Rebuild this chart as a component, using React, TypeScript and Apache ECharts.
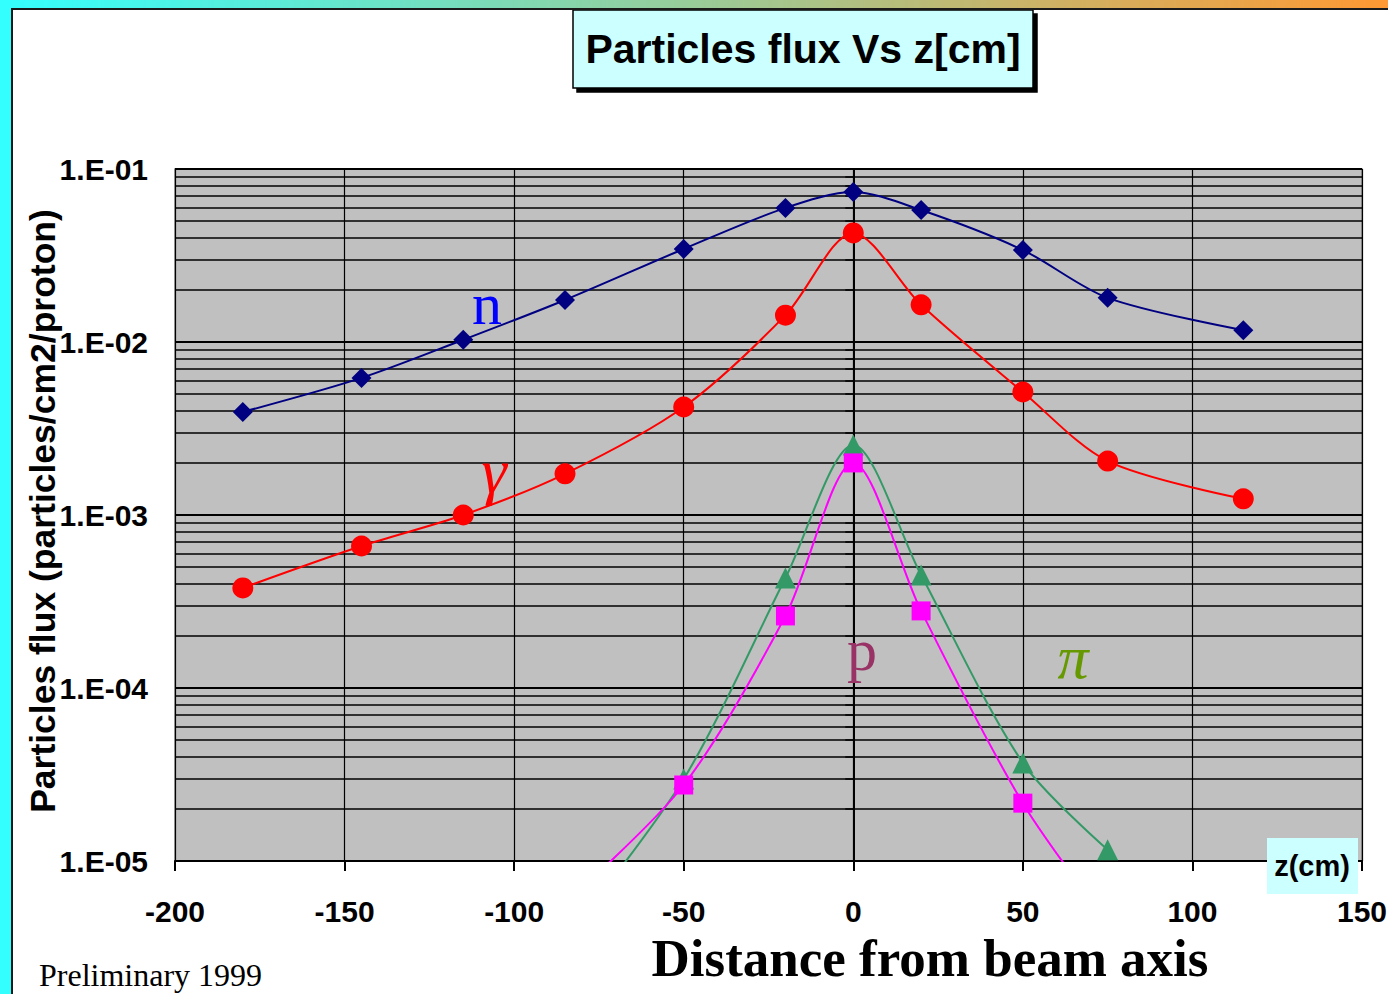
import React, { useEffect, useRef } from "react";
import * as echarts from "echarts";

const zPositions = [-180, -145, -115, -85, -50, -20, 0, 20, 50, 75, 115];
const neutronFlux = [3.94e-3, 6.2e-3, 1.03e-2, 1.75e-2, 3.45e-2, 5.96e-2, 7.36e-2, 5.79e-2, 3.4e-2, 1.8e-2, 1.17e-2];
const gammaFlux = [3.79e-4, 6.62e-4, 1.0e-3, 1.73e-3, 4.21e-3, 1.43e-2, 4.27e-2, 1.64e-2, 5.14e-3, 2.05e-3, 1.24e-3];
const pionZ = [-85, -50, -20, 0, 20, 50, 75];
const pionFlux = [3.5e-6, 2.98e-5, 4.32e-4, 2.54e-3, 4.5e-4, 3.69e-5, 1.16e-5];
const protonZ = [-85, -50, -20, 0, 20, 50, 75];
const protonFlux = [5.7e-6, 2.75e-5, 2.61e-4, 2.0e-3, 2.79e-4, 2.16e-5, 4.4e-6];

const xMin = -200;
const xMax = 150;
const xStep = 50;
const yMin = 1e-5;
const yMax = 1e-1;

const titleText = "Particles flux Vs z[cm]";
const yTitle = "Particles flux (particles/cm2/proton)";
const xTitle = "Distance from beam axis";
const unitText = "z(cm)";
const footText = "Preliminary 1999";

const pair = (xs: number[], ys: number[]) => xs.map((x, i) => [x, ys[i]]);

const fmtY = (v: number) => {
  const e = Math.round(Math.log10(v));
  const s = e < 0 ? "-" : "+";
  return "1.E" + s + String(Math.abs(e)).padStart(2, "0");
};

export default function App() {
  const ref = useRef<HTMLDivElement>(null);
  useEffect(() => {
    if (!ref.current) return;
    const chart = echarts.init(ref.current, null, { renderer: "svg" });
    const sans = "Liberation Sans, Arial, sans-serif";
    const serif = "Liberation Serif, Times New Roman, serif";
    const lineBase = { type: "line", smooth: 0.3, clip: true, z: 5 };
    chart.setOption({
      animation: false,
      backgroundColor: "#FFFFFF",
      grid: {
        left: 175,
        top: 169,
        width: 1187,
        height: 692,
        show: true,
        backgroundColor: "#C0C0C0",
        borderColor: "#808080",
        borderWidth: 1.5,
        containLabel: false,
        outerBoundsMode: "none",
      },
      xAxis: {
        type: "value",
        min: xMin,
        max: xMax,
        interval: xStep,
        axisLine: { show: true, onZero: false, lineStyle: { color: "#000", width: 2 } },
        axisTick: { show: true, length: 10, lineStyle: { color: "#000", width: 2 } },
        axisLabel: {
          margin: 35,
          color: "#000",
          fontFamily: sans,
          fontWeight: "bold",
          fontSize: 30,
          showMinLabel: true,
          showMaxLabel: true,
          hideOverlap: false,
        },
        splitLine: { show: true, lineStyle: { color: "#000", width: 1.2 } },
      },
      yAxis: {
        type: "log",
        logBase: 10,
        min: yMin,
        max: yMax,
        axisLine: { show: true, lineStyle: { color: "#000", width: 2 } },
        axisTick: { show: true, length: 8, lineStyle: { color: "#000", width: 1.5 } },
        minorTick: { show: true, splitNumber: 9, length: 8, lineStyle: { color: "#000", width: 1.5 } },
        axisLabel: {
          margin: 27,
          color: "#000",
          fontFamily: sans,
          fontWeight: "bold",
          fontSize: 30,
          formatter: fmtY,
        },
        splitLine: { show: true, lineStyle: { color: "#000", width: 1.8 } },
        minorSplitLine: { show: true, lineStyle: { color: "#000", width: 1.5 } },
      },
      series: [
        {
          ...lineBase,
          name: "n",
          data: pair(zPositions, neutronFlux),
          symbol: "diamond",
          symbolSize: 20,
          lineStyle: { color: "#000080", width: 2 },
          itemStyle: { color: "#000080" },
        },
        {
          ...lineBase,
          name: "gamma",
          data: pair(zPositions, gammaFlux),
          symbol: "circle",
          symbolSize: 21,
          lineStyle: { color: "#FF0000", width: 2 },
          itemStyle: { color: "#FF0000" },
        },
        {
          ...lineBase,
          name: "pi",
          data: pair(pionZ, pionFlux),
          symbol: "triangle",
          symbolSize: 21,
          lineStyle: { color: "#339966", width: 2 },
          itemStyle: { color: "#339966" },
        },
        {
          ...lineBase,
          name: "p",
          data: pair(protonZ, protonFlux),
          symbol: "rect",
          symbolSize: 19,
          lineStyle: { color: "#FF00FF", width: 2 },
          itemStyle: { color: "#FF00FF" },
        },
      ],
      graphic: [
        {
          type: "rect",
          z: 100,
          shape: { x: 0, y: 0, width: 1388, height: 8 },
          style: {
            fill: new echarts.graphic.LinearGradient(0, 0, 1, 0, [
              { offset: 0, color: "#33FFFF" },
              { offset: 1, color: "#FF9933" },
            ]),
          },
        },
        { type: "rect", z: 100, shape: { x: 0, y: 0, width: 11, height: 994 }, style: { fill: "#33FFFF" } },
        { type: "line", z: 101, shape: { x1: 12, y1: 8, x2: 12, y2: 994 }, style: { stroke: "#1a1a1a", lineWidth: 2 } },
        { type: "line", z: 101, shape: { x1: 11, y1: 9, x2: 1388, y2: 9 }, style: { stroke: "#1a1a1a", lineWidth: 2 } },
        {
          type: "rect",
          z: 100,
          shape: { x: 573, y: 10, width: 460, height: 78 },
          style: {
            fill: "#CCFFFF",
            stroke: "#000",
            lineWidth: 1.5,
            shadowColor: "#000",
            shadowOffsetX: 4,
            shadowOffsetY: 4,
            shadowBlur: 0,
          },
        },
        {
          type: "text",
          z: 101,
          x: 803,
          y: 49,
          style: {
            text: titleText,
            fill: "#000",
            font: "bold 41px " + sans,
            textAlign: "center",
            textVerticalAlign: "middle",
          },
        },
        {
          type: "text",
          z: 101,
          x: 43,
          y: 511,
          rotation: Math.PI / 2,
          style: {
            text: yTitle,
            fill: "#000",
            font: "bold 35.5px " + sans,
            textAlign: "center",
            textVerticalAlign: "middle",
          },
        },
        {
          type: "text",
          z: 101,
          x: 930,
          y: 958,
          style: {
            text: xTitle,
            fill: "#000",
            font: "bold 53px " + serif,
            textAlign: "center",
            textVerticalAlign: "middle",
          },
        },
        {
          type: "text",
          z: 101,
          x: 39,
          y: 975,
          style: {
            text: footText,
            fill: "#000",
            font: "32px " + serif,
            textAlign: "left",
            textVerticalAlign: "middle",
          },
        },
        { type: "rect", z: 100, shape: { x: 1267, y: 838, width: 91, height: 56 }, style: { fill: "#CCFFFF" } },
        {
          type: "text",
          z: 101,
          x: 1312,
          y: 866,
          style: {
            text: unitText,
            fill: "#000",
            font: "bold 29px " + sans,
            textAlign: "center",
            textVerticalAlign: "middle",
          },
        },
        {
          type: "text",
          z: 101,
          x: 487,
          y: 304,
          style: { text: "n", fill: "#0000FF", font: "60px " + serif, textAlign: "center", textVerticalAlign: "middle" },
        },
        {
          type: "text",
          z: 101,
          x: 494,
          y: 470,
          style: { text: "γ", fill: "#FF0000", font: "italic 64px " + serif, textAlign: "center", textVerticalAlign: "middle" },
        },
        {
          type: "text",
          z: 101,
          x: 862,
          y: 650,
          style: { text: "p", fill: "#993366", font: "60px " + serif, textAlign: "center", textVerticalAlign: "middle" },
        },
        {
          type: "text",
          z: 101,
          x: 1073,
          y: 657,
          style: { text: "π", fill: "#669900", font: "italic 62px " + serif, textAlign: "center", textVerticalAlign: "middle" },
        },
      ],
    });
    return () => chart.dispose();
  }, []);
  return (
    <div
      ref={ref}
      style={{ position: "fixed", left: 0, top: 0, width: 1388, height: 994, background: "#fff" }}
    />
  );
}
